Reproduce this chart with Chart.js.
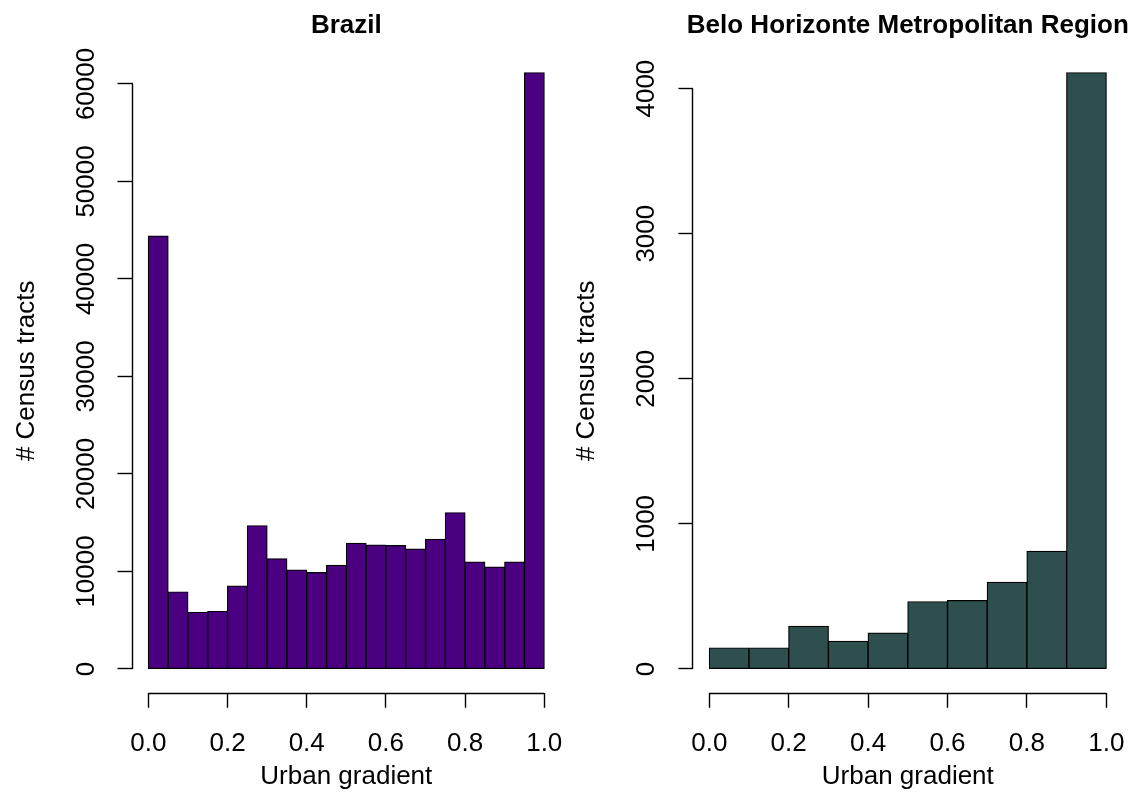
<!DOCTYPE html>
<html><head><meta charset="utf-8">
<script src="https://cdn.jsdelivr.net/npm/chart.js@4.4.1/dist/chart.umd.min.js"></script>
<style>
html,body{margin:0;padding:0;background:#fff;}
#wrap{position:relative;width:1138px;height:792px;background:#fff;}
canvas{position:absolute;top:0;}
</style></head><body>
<div id="wrap">
<canvas id="c1" width="569" height="792" style="left:0"></canvas>
<canvas id="c2" width="569" height="792" style="left:569px"></canvas>
</div>
<script>
// ---- data ----
const brazilTitle = 'Brazil';
const brazilBinStart = [0.00,0.05,0.10,0.15,0.20,0.25,0.30,0.35,0.40,0.45,0.50,0.55,0.60,0.65,0.70,0.75,0.80,0.85,0.90,0.95];
const brazilBinWidth = 0.05;
const brazilCounts = [44400,7900,5800,5900,8500,14700,11300,10150,9900,10630,12900,12720,12650,12300,13300,16030,10970,10460,10970,61160];
const brazilYTicks = [0,10000,20000,30000,40000,50000,60000];
const brazilYTickLabels = ['0','10000','20000','30000','40000','50000','60000'];

const bhTitle = 'Belo Horizonte Metropolitan Region';
const bhBinStart = [0.0,0.1,0.2,0.3,0.4,0.5,0.6,0.7,0.8,0.9];
const bhBinWidth = 0.1;
const bhCounts = [145,145,294,191,248,464,471,597,811,4110];
const bhYTicks = [0,1000,2000,3000,4000];
const bhYTickLabels = ['0','1000','2000','3000','4000'];

const xTicks = [0,0.2,0.4,0.6,0.8,1.0];
const xTickLabels = ['0.0','0.2','0.4','0.6','0.8','1.0'];
const xTitle = 'Urban gradient';
const yTitle = '# Census tracts';

const FONT = '"Liberation Sans", Arial, Helvetica, sans-serif';

const rAxes = {
  id: 'rAxes',
  afterDraw(chart, args, o) {
    const {ctx, chartArea: a} = chart;
    const x = chart.scales.x, y = chart.scales.y;
    const xt = x.ticks, yt = y.ticks;
    ctx.save();
    ctx.strokeStyle = '#000';
    ctx.lineWidth = 1.4;
    const yb = Math.round(a.bottom) + 0.5;
    ctx.beginPath();
    ctx.moveTo(x.getPixelForValue(xt[0].value), yb);
    ctx.lineTo(x.getPixelForValue(xt[xt.length-1].value), yb);
    ctx.stroke();
    const xl = Math.round(a.left) - 0.5;
    ctx.beginPath();
    ctx.moveTo(xl, y.getPixelForValue(yt[0].value));
    ctx.lineTo(xl, y.getPixelForValue(yt[yt.length-1].value));
    ctx.stroke();

    ctx.fillStyle = '#000';
    ctx.font = '26px ' + FONT;
    ctx.textAlign = 'center';
    ctx.textBaseline = 'alphabetic';
    xt.forEach((t, i) => ctx.fillText(o.xLabels[i], x.getPixelForValue(t.value), a.bottom + 58));
    yt.forEach((t, i) => {
      ctx.save();
      ctx.translate(a.left - 39, y.getPixelForValue(t.value));
      ctx.rotate(-Math.PI / 2);
      ctx.fillText(o.yLabels[i], 0, 0);
      ctx.restore();
    });
    const cx = (a.left + a.right) / 2;
    ctx.fillText(o.xTitle, cx, a.bottom + 91);
    ctx.save();
    ctx.translate(a.left - 99, (a.top + a.bottom) / 2);
    ctx.rotate(-Math.PI / 2);
    ctx.fillText(o.yTitle, 0, 0);
    ctx.restore();
    ctx.font = 'bold 26px ' + FONT;
    ctx.fillText(o.title, cx, 33);
    ctx.restore();
  }
};

function makeHist(id, title, starts, width, counts, yTicks, yLabels, color, pad) {
  const ymax = Math.max(...counts);
  const pts = starts.map((s, i) => ({x: s + width / 2, y: counts[i]}));
  return new Chart(document.getElementById(id), {
    type: 'bar',
    data: { datasets: [{ data: pts, backgroundColor: color, borderColor: '#000', borderWidth: 1.2,
      borderSkipped: false, barPercentage: 1, categoryPercentage: 1, inflateAmount: 0.5 }] },
    options: {
      responsive: false, animation: false, devicePixelRatio: 1,
      layout: { padding: pad },
      plugins: { legend: {display: false}, tooltip: {enabled: false}, title: {display: false},
        rAxes: { title, xLabels: xTickLabels, yLabels, xTitle, yTitle } },
      scales: {
        x: { type: 'linear', min: -0.04, max: 1.04, offset: false,
          afterBuildTicks: s => { s.ticks = xTicks.map(v => ({value: v})); },
          ticks: { display: false },
          grid: { display: true, offset: false, drawOnChartArea: false, drawTicks: true, tickLength: 15, tickColor: '#000', tickWidth: 1.4 },
          border: { display: false } },
        y: { type: 'linear', min: -0.04 * ymax, max: 1.04 * ymax,
          afterBuildTicks: s => { s.ticks = yTicks.map(v => ({value: v})); },
          ticks: { display: false },
          grid: { display: true, drawOnChartArea: false, drawTicks: true, tickLength: 15, tickColor: '#000', tickWidth: 1.4 },
          border: { display: false } }
      }
    },
    plugins: [rAxes]
  });
}

makeHist('c1', brazilTitle, brazilBinStart, brazilBinWidth, brazilCounts, brazilYTicks, brazilYTickLabels, '#4B0082',
  {left: 117.5, right: 8.9, top: 48.8, bottom: 84.2});
makeHist('c2', bhTitle, bhBinStart, bhBinWidth, bhCounts, bhYTicks, bhYTickLabels, '#2F4F4F',
  {left: 109.4, right: 15.8, top: 48.8, bottom: 84.2});
</script>
</body></html>
